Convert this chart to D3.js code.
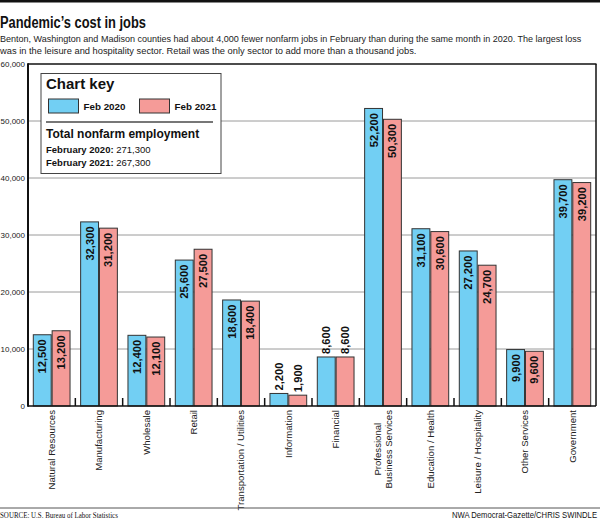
<!DOCTYPE html>
<html>
<head>
<meta charset="utf-8">
<script src="https://cdn.jsdelivr.net/npm/d3@7"></script>
<style>
  html, body { margin: 0; padding: 0; background: #fff; }
  svg { display: block; }
</style>
</head>
<body>
<svg id="chart" width="600" height="521"></svg>
<script>
// ---- data ----
const categories = [
  "Natural Resources", "Manufacturing", "Wholesale", "Retail",
  "Transportation / Utilities", "Information", "Financial",
  "Professional\nBusiness Services", "Education / Health",
  "Leisure / Hospitality", "Other Services", "Government"
];
const seriesNames = ["Feb 2020", "Feb 2021"];
const feb2020 = [12500, 32300, 12400, 25600, 18600, 2200, 8600, 52200, 31100, 27200, 9900, 39700];
const feb2021 = [13200, 31200, 12100, 27500, 18400, 1900, 8600, 50300, 30600, 24700, 9600, 39200];
const yTicks = [0, 10000, 20000, 30000, 40000, 50000, 60000];
const title = "Pandemic\u2019s cost in jobs";
const subtitle = [
  "Benton, Washington and Madison counties had about 4,000 fewer nonfarm jobs in February than during the same month in 2020. The largest loss",
  "was in the leisure and hospitality sector. Retail was the only sector to add more than a thousand jobs."
];
const totals = [["February 2020:", "271,300"], ["February 2021:", "267,300"]];
const source = "SOURCE: U.S. Bureau of Labor Statistics";
const credit = "NWA Democrat-Gazette/CHRIS SWINDLE";

// ---- layout ----
const svg = d3.select("#chart");
const colors = ["#72cff3", "#f59b98"];
const L = 28, R = 596, T = 64, B = 406;
const sans = "'Liberation Sans', Arial, sans-serif";
const narrow = "'Liberation Sans Narrow', 'Liberation Sans', Arial, sans-serif";

const x = d3.scaleBand().domain(d3.range(categories.length)).range([L, R]).padding(0);
const xs = d3.scaleBand().domain([0, 1]).range([5.3, x.bandwidth() - 5.3]).paddingInner(0.05);
const y = d3.scaleLinear().domain([0, 60000]).range([B, T]);
const fmt = d3.format(",");

// text fitted to a target width by horizontal scaling
function fitText(parent, str, px, py, width, attrs, anchor) {
  const g = parent.append("g");
  const t = g.append("text").attr("x", 0).attr("y", 0).text(str);
  Object.entries(attrs).forEach(([k, v]) => t.attr(k, v));
  const w = t.node().getComputedTextLength();
  const k = width / w;
  if (anchor === "end") t.attr("text-anchor", "end");
  g.attr("transform", `translate(${px},${py}) scale(${k},1)`);
  return g;
}

// top rule
svg.append("rect").attr("x", 0).attr("y", 0).attr("width", 600).attr("height", 2.5).attr("fill", "#111");

// title & subtitle
fitText(svg, title, 0, 28, 146, {"font-family": narrow, "font-weight": "bold", "font-size": 17, "fill": "#111"});
const subLens = [582, 417];
subtitle.forEach((s, i) => {
  fitText(svg, s, 0, 42 + i * 11.5, subLens[i], {"font-family": narrow, "font-size": 9.8, "fill": "#222"});
});

// gridlines
svg.append("g").selectAll("line").data(yTicks.filter(t => t > 0 && t < 60000)).join("line")
  .attr("x1", L).attr("x2", R).attr("y1", d => y(d)).attr("y2", d => y(d))
  .attr("stroke", "#9a9a9a").attr("stroke-width", 1);

// y axis labels
const yAxis = d3.axisLeft(y).tickValues(yTicks).tickSize(0).tickPadding(3).tickFormat(d => fmt(d));
const gy = svg.append("g").attr("transform", `translate(${L},0)`).call(yAxis);
gy.select(".domain").remove();
gy.selectAll("text").attr("font-family", sans).attr("font-size", 8).attr("fill", "#222");

// bars
const series = [feb2020, feb2021];
series.forEach((vals, s) => {
  const g = svg.append("g");
  g.selectAll("rect").data(vals).join("rect")
    .attr("x", (d, i) => x(i) + xs(s))
    .attr("y", d => y(d))
    .attr("width", xs.bandwidth())
    .attr("height", d => B - y(d))
    .attr("fill", colors[s])
    .attr("stroke", "#333").attr("stroke-width", 1);
  g.selectAll("text").data(vals).join("text")
    .attr("transform", (d, i) => {
      const cx = x(i) + xs(s) + xs.bandwidth() / 2;
      const inside = d >= 9000;
      return `translate(${cx},${inside ? y(d) + 4.5 : y(d) - 3}) rotate(-90)`;
    })
    .attr("text-anchor", d => d >= 9000 ? "end" : "start")
    .attr("dy", "0.36em")
    .attr("font-family", sans).attr("font-weight", "bold").attr("font-size", 11.2)
    .attr("fill", "#111")
    .text(d => fmt(d));
});

// frame
svg.append("line").attr("x1", L).attr("x2", R + 0.5).attr("y1", T).attr("y2", T).attr("stroke", "#111").attr("stroke-width", 1.5);
svg.append("line").attr("x1", R).attr("x2", R).attr("y1", T).attr("y2", B).attr("stroke", "#111").attr("stroke-width", 1.5);
svg.append("line").attr("x1", L).attr("x2", R).attr("y1", B).attr("y2", B).attr("stroke", "#111").attr("stroke-width", 1.5);
svg.append("line").attr("x1", L).attr("x2", L).attr("y1", T - 0.75).attr("y2", B + 0.75).attr("stroke", "#111").attr("stroke-width", 2);

// category separators
svg.append("g").selectAll("line").data(d3.range(1, categories.length)).join("line")
  .attr("x1", d => x(d)).attr("x2", d => x(d)).attr("y1", B - 8).attr("y2", B)
  .attr("stroke", "#111").attr("stroke-width", 1.5);

// category labels
const gx = svg.append("g");
categories.forEach((c, i) => {
  const lines = c.split("\n");
  const cx = x(i) + x.bandwidth() / 2;
  const nodes = lines.map((ln, k) => gx.append("text")
    .attr("font-family", sans).attr("font-size", 9.6).attr("fill", "#222")
    .attr("text-anchor", "middle").attr("dy", "0.35em").text(ln));
  const maxLen = d3.max(nodes, n => n.node().getComputedTextLength());
  nodes.forEach((n, k) => {
    const dx = (k - (lines.length - 1) / 2) * 10.5;
    n.attr("transform", `translate(${cx + dx},${410 + maxLen / 2}) rotate(-90)`);
  });
});

// legend
const lg = svg.append("g");
lg.append("rect").attr("x", 41).attr("y", 73.5).attr("width", 180).attr("height", 100)
  .attr("fill", "#fff").attr("stroke", "#444").attr("stroke-width", 1);
lg.append("text").attr("x", 46).attr("y", 88.5).attr("font-family", sans).attr("font-weight", "bold")
  .attr("font-size", 15).attr("fill", "#111").text("Chart key");
const swX = [48.5, 139.5];
seriesNames.forEach((n, s) => {
  lg.append("rect").attr("x", swX[s]).attr("y", 99).attr("width", 30).attr("height", 14)
    .attr("fill", colors[s]).attr("stroke", "#333").attr("stroke-width", 1);
  lg.append("text").attr("x", swX[s] + 35).attr("y", 109.5).attr("font-family", sans)
    .attr("font-weight", "bold").attr("font-size", 9.8).attr("fill", "#111").text(n);
});
lg.append("line").attr("x1", 46).attr("x2", 213).attr("y1", 122).attr("y2", 122)
  .attr("stroke", "#777").attr("stroke-width", 2);
lg.append("text").attr("x", 46).attr("y", 137.5).attr("font-family", sans).attr("font-weight", "bold")
  .attr("font-size", 12).attr("fill", "#111").text("Total nonfarm employment");
totals.forEach((t, i) => {
  const tx = lg.append("text").attr("x", 46).attr("y", 152.5 + i * 13)
    .attr("font-family", sans).attr("font-size", 9.5).attr("fill", "#111");
  tx.append("tspan").attr("font-weight", "bold").text(t[0]);
  tx.append("tspan").text(" " + t[1]);
});

// footer
svg.append("line").attr("x1", 0).attr("x2", 600).attr("y1", 508).attr("y2", 508)
  .attr("stroke", "#555").attr("stroke-width", 1);
fitText(svg, source, 0, 518, 118, {"font-family": "'Liberation Serif', 'Times New Roman', serif", "font-size": 9, "fill": "#111"});
fitText(svg, credit, 597, 518, 145, {"font-family": narrow, "font-size": 9, "fill": "#111"}, "end");
</script>
</body>
</html>
